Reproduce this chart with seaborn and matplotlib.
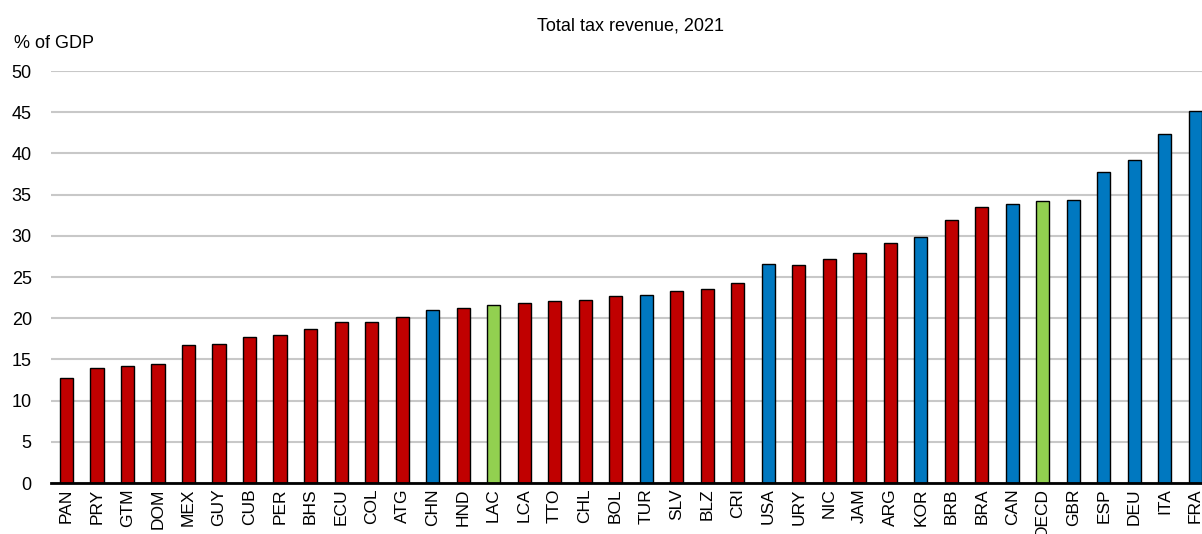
import matplotlib
matplotlib.use("Agg")
import matplotlib.pyplot as plt
import seaborn as sns
import pandas as pd

countries = ["PAN", "PRY", "GTM", "DOM", "MEX", "GUY", "CUB", "PER", "BHS", "ECU",
             "COL", "ATG", "CHN", "HND", "LAC", "LCA", "TTO", "CHL", "BOL", "TUR",
             "SLV", "BLZ", "CRI", "USA", "URY", "NIC", "JAM", "ARG", "KOR", "BRB",
             "BRA", "CAN", "OECD", "GBR", "ESP", "DEU", "ITA", "FRA"]
values = [12.8, 14.0, 14.2, 14.5, 16.7, 16.9, 17.7, 18.0, 18.7, 19.5,
          19.5, 20.1, 21.0, 21.2, 21.6, 21.8, 22.1, 22.2, 22.7, 22.8,
          23.3, 23.5, 24.3, 26.6, 26.5, 27.2, 27.9, 29.1, 29.8, 31.9,
          33.5, 33.9, 34.2, 34.4, 37.8, 39.2, 42.4, 45.2]
groups = ["LAC", "LAC", "LAC", "LAC", "LAC", "LAC", "LAC", "LAC", "LAC", "LAC",
          "LAC", "LAC", "Other", "LAC", "Average", "LAC", "LAC", "LAC", "LAC", "Other",
          "LAC", "LAC", "LAC", "Other", "LAC", "LAC", "LAC", "LAC", "Other", "LAC",
          "LAC", "Other", "Average", "Other", "Other", "Other", "Other", "Other"]
yticks = [0, 5, 10, 15, 20, 25, 30, 35, 40, 45, 50]

palette = {"LAC": "#C00000", "Other": "#0078C0", "Average": "#92D050"}

sns.set_theme(style="white")
plt.rcParams["font.family"] = ["Liberation Sans", "DejaVu Sans"]

df = pd.DataFrame({"country": countries, "value": values, "group": groups})

W, H = 1202, 534
fig = plt.figure(figsize=(W / 100, H / 100), dpi=100)
left, right, bottom, top = 51.25, 1210.5, 483, 71
ax = fig.add_axes([left / W, (H - bottom) / H, (right - left) / W, (bottom - top) / H])

sns.barplot(data=df, x="country", y="value", hue="group", palette=palette,
            dodge=False, width=0.43, edgecolor="black", linewidth=1.0,
            saturation=1, legend=False, ax=ax, order=countries)

ax.set_ylim(0, 50)
ax.set_xlim(-0.5, len(countries) - 0.5)
ax.set_yticks(yticks)
ax.set_yticklabels([str(t) for t in yticks], fontsize=13)
ax.yaxis.grid(True, color="#C8C8C8", linewidth=1.5)
ax.set_axisbelow(True)
for s in ["left", "right", "top"]:
    ax.spines[s].set_visible(False)
ax.spines["bottom"].set_color("black")
ax.spines["bottom"].set_linewidth(2)
ax.tick_params(axis="y", length=0, pad=14, colors="black")
ax.tick_params(axis="x", length=0, pad=4, labelrotation=90, labelsize=12.5, colors="black")
ax.set_xlabel("")
ax.set_ylabel("")

ax.set_title("Total tax revenue, 2021", fontsize=13, pad=29, color="black")
fig.text(14 / W, 1 - 43 / H, "% of GDP", fontsize=13, va="center", ha="left", color="black")

fig.savefig("out.png", dpi=100)
